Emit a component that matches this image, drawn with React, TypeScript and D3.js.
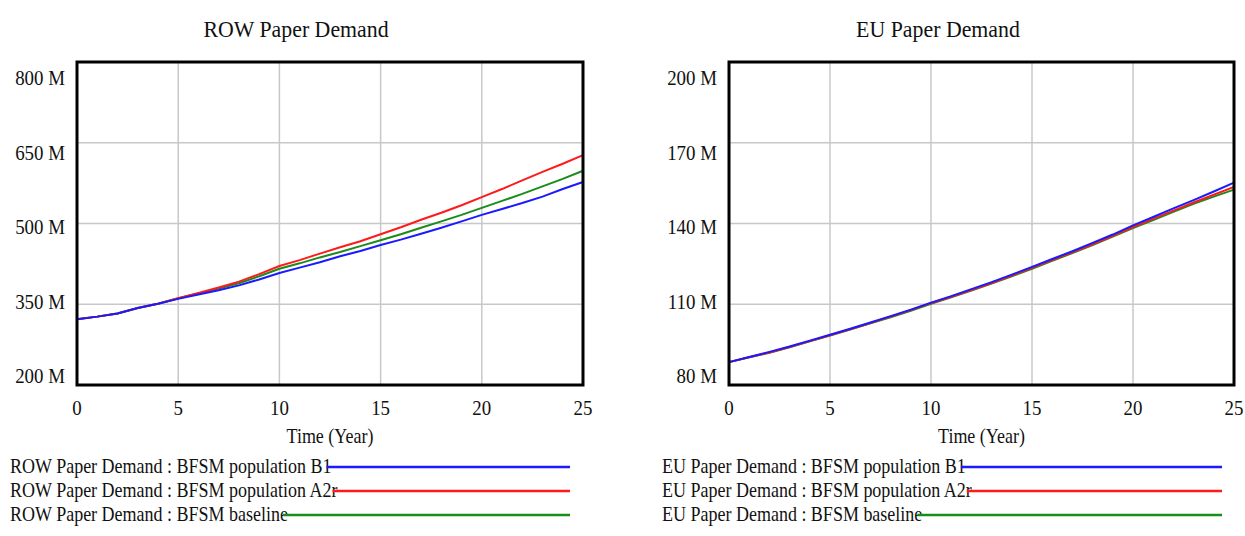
import React, { useEffect, useRef } from 'react';
import * as d3 from 'd3';

const YEARS = [0, 1, 2, 3, 4, 5, 6, 7, 8, 9, 10, 11, 12, 13, 14, 15, 16, 17, 18, 19, 20, 21, 22, 23, 24, 25];
const X_TICKS = [0, 5, 10, 15, 20, 25];

const ROW_TICKS = [200, 350, 500, 650, 800];
const ROW_B1 = [322, 327, 333, 343, 351, 360, 368, 376, 385, 396, 408, 418, 428, 439, 449, 460, 470, 481, 492, 504, 516, 527, 538, 550, 564, 577];
const ROW_A2R = [322, 327, 333, 343, 351, 361, 371, 381, 392, 406, 421, 432, 444, 456, 467, 480, 493, 507, 520, 534, 549, 564, 580, 596, 611, 627];
const ROW_BASE = [322, 327, 333, 343, 351, 361, 370, 379, 389, 402, 416, 426, 437, 447, 458, 469, 480, 492, 504, 516, 529, 542, 555, 569, 583, 598];

const EU_TICKS = [80, 110, 140, 170, 200];
const EU_B1 = [88.5, 90.4, 92.3, 94.3, 96.5, 98.7, 100.9, 103.2, 105.6, 108.0, 110.6, 113.0, 115.6, 118.2, 121.0, 123.9, 126.8, 129.7, 132.8, 135.9, 139.3, 142.4, 145.6, 148.7, 151.9, 155.2];
const EU_A2R = [88.5, 90.3, 92.1, 94.1, 96.3, 98.5, 100.7, 103.0, 105.4, 107.8, 110.4, 112.8, 115.3, 117.9, 120.7, 123.5, 126.4, 129.3, 132.3, 135.4, 138.7, 141.7, 144.8, 147.8, 150.7, 153.6];
const EU_BASE = [88.5, 90.3, 92.0, 94.0, 96.2, 98.4, 100.6, 102.9, 105.2, 107.6, 110.2, 112.6, 115.1, 117.7, 120.4, 123.2, 126.1, 129.0, 132.0, 135.1, 138.3, 141.3, 144.3, 147.3, 150.0, 152.6];

const SERIES_NAMES = ['BFSM population B1', 'BFSM population A2r', 'BFSM baseline'];
const COLORS = ['#1a1aff', '#ff1a1a', '#1a8c1a'];

const PANELS = [
  { title: 'ROW Paper Demand', ticks: ROW_TICKS, series: [ROW_B1, ROW_A2R, ROW_BASE], x0: 77, x1: 583, titleX: 296, legendX: 10, legendEnd: 570 },
  { title: 'EU Paper Demand', ticks: EU_TICKS, series: [EU_B1, EU_A2R, EU_BASE], x0: 729, x1: 1234, titleX: 938, legendX: 662, legendEnd: 1222 },
];

const TOP = 62;
const BOTTOM = 385;
const FONT = '"Liberation Serif", "Times New Roman", serif';
const SX = 0.9;

export default function App() {
  const ref = useRef<SVGSVGElement | null>(null);

  useEffect(() => {
    const svg = d3.select(ref.current);
    svg.selectAll('*').remove();

    const addText = (g: any, x: number, y: number, txt: string, size: number, anchor: string, sx: number = SX) => {
      return g.append('text')
        .attr('transform', `translate(${x},${y}) scale(${sx},1)`)
        .attr('text-anchor', anchor)
        .attr('font-family', FONT)
        .attr('font-size', size)
        .attr('fill', '#111')
        .text(txt);
    };

    PANELS.forEach((p) => {
      const g = svg.append('g');
      const x = d3.scaleLinear().domain([0, 25]).range([p.x0, p.x1]);
      const y = d3.scaleLinear().domain([p.ticks[0], p.ticks[p.ticks.length - 1]]).range([BOTTOM, TOP]);

      // title
      addText(g, p.titleX, 37, p.title, 23, 'middle', 0.95);

      // grid
      X_TICKS.slice(1, -1).forEach((t) => {
        g.append('line').attr('x1', x(t)).attr('x2', x(t)).attr('y1', TOP).attr('y2', BOTTOM)
          .attr('stroke', '#c8c8c8').attr('stroke-width', 1.5);
      });
      p.ticks.slice(1, -1).forEach((t) => {
        g.append('line').attr('x1', p.x0).attr('x2', p.x1).attr('y1', y(t)).attr('y2', y(t))
          .attr('stroke', '#c8c8c8').attr('stroke-width', 1.5);
      });

      // y tick labels (spread within the frame)
      const n = p.ticks.length - 1;
      p.ticks.forEach((t, i) => {
        const cy = (BOTTOM - 8) + ((TOP + 17) - (BOTTOM - 8)) * (i / n);
        addText(g, p.x0 - 12, cy + 6, `${t} M`, 21, 'end');
      });

      // x tick labels
      X_TICKS.forEach((t) => {
        addText(g, x(t), 415, `${t}`, 21, 'middle');
      });
      addText(g, (p.x0 + p.x1) / 2, 443, 'Time (Year)', 20, 'middle');

      // lines
      const line = d3.line<number>().x((_, i) => x(YEARS[i])).y((d) => y(d));
      [2, 1, 0].forEach((si) => {
        g.append('path').datum(p.series[si]).attr('d', line as any)
          .attr('fill', 'none').attr('stroke', COLORS[si]).attr('stroke-width', 2);
      });

      // frame
      g.append('rect').attr('x', p.x0).attr('y', TOP).attr('width', p.x1 - p.x0).attr('height', BOTTOM - TOP)
        .attr('fill', 'none').attr('stroke', '#000').attr('stroke-width', 3);

      // legend
      SERIES_NAMES.forEach((name, i) => {
        const cy = 467 + i * 24;
        const t = addText(g, p.legendX, cy + 6, `${p.title} : ${name}`, 20, 'start');
        const w = (t.node() as SVGTextElement).getComputedTextLength() * SX;
        g.append('line').attr('x1', p.legendX + w - 5).attr('x2', p.legendEnd).attr('y1', cy).attr('y2', cy)
          .attr('stroke', COLORS[i]).attr('stroke-width', 2.5);
      });
    });
  }, []);

  return (
    <svg ref={ref} width={1245} height={536} style={{ position: 'absolute', left: 0, top: 0, background: '#fff' }} />
  );
}
